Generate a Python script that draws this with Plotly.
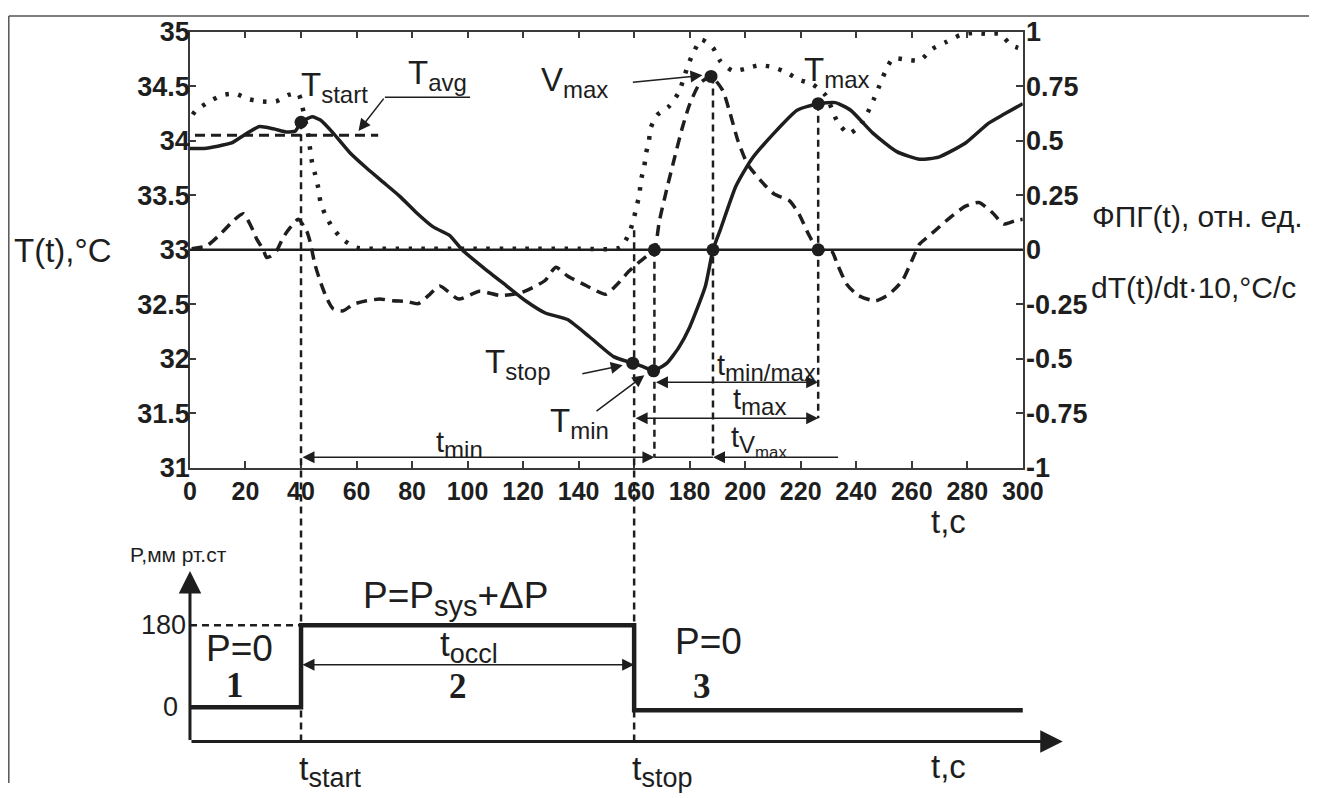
import plotly.graph_objects as go

# ---------------- data ----------------
# temperature T(t), degC  (left axis)
t_T = [0, 5, 10, 15, 20, 25, 30, 35, 38, 40, 44, 47, 51.6, 57.6, 63.6, 69.6, 75.6, 81.6, 87.6, 93.6,
       98, 106, 114, 121, 128, 136, 144, 152.6, 159.5, 163, 167, 171.8, 176, 180, 185.6, 188.4, 191,
       196.6, 202, 210.4, 218.7, 226.3, 232.5, 238, 246, 254.6, 262.9, 269.7, 279.4, 287.6, 293, 300]
T_vals = [33.93, 33.93, 33.95, 33.98, 34.06, 34.13, 34.11, 34.08, 34.09, 34.17, 34.22, 34.19, 34.07,
          33.89, 33.75, 33.62, 33.49, 33.34, 33.21, 33.13, 33.0, 32.83, 32.67, 32.53, 32.42, 32.36,
          32.2, 32.02, 31.96, 31.93, 31.89, 31.96, 32.1, 32.29, 32.66, 33.0, 33.18, 33.58, 33.82,
          34.07, 34.28, 34.34, 34.35, 34.28, 34.07, 33.9, 33.83, 33.85, 33.98, 34.16, 34.24, 34.34]

# photoplethysmogram, rel. units (right axis, dotted)
t_ppg = [1, 2.2, 7, 11.8, 16.2, 21.3, 26.2, 31, 35.5, 39, 40.5, 42.5, 43.9, 45, 46.2, 47, 48.6, 51.4,
         55.1, 60, 80, 100, 120, 140, 155, 158, 159.7, 160.8, 161.9, 162.4, 163.6, 164.2, 165.3, 166,
         168.4, 172.5, 176, 177.7, 179.4, 181.2, 184.2, 188.4, 191, 195.5, 200, 204.9, 209.9, 214.6,
         219.4, 224.2, 229, 233.2, 237.3, 241.4, 244.2, 246.3, 248.4, 250.4, 253.2, 258, 262.9, 267.6,
         272.4, 277.3, 282, 287, 291.7, 295.9, 300]
ppg_vals = [0.62, 0.64, 0.68, 0.71, 0.716, 0.69, 0.68, 0.68, 0.71, 0.716, 0.654, 0.533, 0.406, 0.35,
            0.285, 0.22, 0.165, 0.1, 0.047, 0.01, 0.005, 0.005, 0.005, 0.005, 0.01, 0.07, 0.133, 0.195,
            0.253, 0.317, 0.378, 0.437, 0.498, 0.56, 0.619, 0.657, 0.72, 0.78, 0.846, 0.9, 0.964, 0.926,
            0.866, 0.82, 0.83, 0.846, 0.838, 0.815, 0.78, 0.76, 0.708, 0.588, 0.532, 0.57, 0.631, 0.69,
            0.754, 0.815, 0.877, 0.872, 0.869, 0.923, 0.953, 0.984, 0.995, 0.99, 0.99, 0.938, 0.92]

# dT/dt * 10, degC/s (right axis, dashed)
t_dT = [0.6, 6, 10.8, 15.6, 19.2, 22.8, 24, 26.4, 27.6, 29, 31.2, 33.6, 36, 39, 42, 43.2, 45, 46.8,
        49.2, 51.5, 55.2, 58.8, 63.6, 68.4, 73.2, 78, 82.2, 86.4, 90, 96.8, 104.3, 111.9, 119.5, 127.8,
        131.8, 136, 143, 149.8, 154, 158, 161.5, 164.5, 167.3, 169.1, 171.9, 174.6, 177.4, 180.1,
        183.6, 187.7, 191.9, 194.6, 197.4, 200.8, 205.6, 210.4, 215.9, 219.4, 222.8, 226.3, 231.1,
        233.2, 236.6, 240.8, 247, 251.8, 256.6, 260, 262.8, 264, 268.3, 273.8, 279.4, 284.2, 289,
        293.1, 297.2, 300]
dT_vals = [0.005, 0.018, 0.07, 0.133, 0.165, 0.087, 0.05, 0.0, -0.035, -0.03, -0.005, 0.057, 0.1,
           0.14, 0.087, 0.04, -0.066, -0.14, -0.22, -0.27, -0.28, -0.25, -0.234, -0.226, -0.234,
           -0.237, -0.247, -0.204, -0.166, -0.226, -0.19, -0.21, -0.196, -0.142, -0.08, -0.12, -0.166,
           -0.204, -0.157, -0.1, -0.06, -0.03, 0.0, 0.133, 0.286, 0.424, 0.562, 0.67, 0.762, 0.795,
           0.731, 0.624, 0.5, 0.394, 0.317, 0.256, 0.225, 0.164, 0.072, 0.0, -0.005, -0.066, -0.158,
           -0.21, -0.234, -0.204, -0.142, -0.05, 0.026, 0.04, 0.087, 0.148, 0.2, 0.217, 0.171, 0.118,
           0.133, 0.14]

# characteristic points
t_start, t_stop = 40, 160
T_pts_t = [40, 159.5, 167, 226.3]          # T_start, T_stop, T_min, T_max
T_pts_v = [34.17, 31.96, 31.89, 34.34]
zero_pts_t = [167.3, 188.4, 226.3]         # zero crossings of dT/dt
t_Vmax, V_max = 187.7, 0.795
T_avg = 34.05
t_Tmin, t_zero2, t_Tmax = 167.3, 188.4, 226.3

# cuff pressure, mm Hg
t_P = [0, 40, 160, 300]
P_vals = [0, 180, -7, -7]
P_level = 180

# axis ticks
x_ticks = list(range(0, 301, 20))
y_ticks = [31, 31.5, 32, 32.5, 33, 33.5, 34, 34.5, 35]
y2_ticks = [-1, -0.75, -0.5, -0.25, 0, 0.25, 0.5, 0.75, 1]
y2_text = ["-1", "-0.75", "-0.5", "-0.25", "0", "0.25", "0.5", "0.75", "1"]

# ---------------- layout geometry ----------------
W, H = 1330, 798
# the photographed view maps page px -> picture px as  pic = O + S * page
CAM_SX, CAM_SY, CAM_OX, CAM_OY = 0.978, 0.96, 7.2, 15.3
FS = 1.0 / ((CAM_SX + CAM_SY) / 2)   # font compensation


def px(i):
    return (i - CAM_OX) / CAM_SX


def py(i):
    return (i - CAM_OY) / CAM_SY


def fs(s):
    return int(round(s * FS))


X0, X1 = px(190), px(1022)      # t=0 and t=300 in the top panel
YT, YB = py(32), py(467)        # top / bottom of top panel
pps = (X1 - X0) / 300.0         # px per second
P0_px, P180_px = py(705.7), py(624.0)
kP = (P0_px - P180_px) / 180.0
Prange = [(P0_px - H) / kP, (P0_px - YB) / kP]
trange2 = [-X0 / pps, (W - X0) / pps]
P_axis = -75.6               # level of the horizontal time axis
P_arrow_top = 299            # tip of the vertical P axis arrow
t_arrow_end = 314.4          # tip of the horizontal time axis arrow

INK = "#1e1e1e"
AX = "#3a3a3a"
SANS = "Liberation Sans, Arial, sans-serif"
SERIF = "Liberation Serif, Times New Roman, serif"


def T_of(v):
    """right-axis value -> left-axis temperature"""
    return 33 + 2 * v


def sub(s, size):
    return "<sub><span style='font-size:%dpx'>%s</span></sub>" % (fs(size), s)


fig = go.Figure()

# curves of the top panel
fig.add_trace(go.Scatter(x=t_ppg, y=ppg_vals, yaxis="y2", mode="lines",
                         line=dict(color=INK, width=4.5, dash="3.5px,9.5px", shape="spline", smoothing=0.6)))
fig.add_trace(go.Scatter(x=t_dT, y=dT_vals, yaxis="y2", mode="lines",
                         line=dict(color=INK, width=3.5, dash="11px,7px", shape="spline", smoothing=0.6)))
fig.add_trace(go.Scatter(x=t_T, y=T_vals, yaxis="y", mode="lines",
                         line=dict(color=INK, width=3.5, shape="spline", smoothing=0.5)))
fig.add_trace(go.Scatter(x=T_pts_t, y=T_pts_v, yaxis="y", mode="markers",
                         marker=dict(color=INK, size=13)))
fig.add_trace(go.Scatter(x=zero_pts_t + [t_Vmax], y=[0, 0, 0, V_max], yaxis="y2", mode="markers",
                         marker=dict(color=INK, size=13)))

# pressure step (bottom panel)
fig.add_trace(go.Scatter(x=t_P, y=P_vals, xaxis="x2", yaxis="y3", mode="lines",
                         line=dict(color=INK, width=4.5, shape="hv")))

shapes = []
VD = dict(color=INK, width=2.5, dash="7px,5px")
shapes.append(dict(type="line", xref="x domain", yref="y2", x0=0, x1=1, y0=0, y1=0,
                   line=dict(color=INK, width=2.5)))
shapes.append(dict(type="line", xref="x", yref="y", x0=1.8, x1=67.8, y0=T_avg, y1=T_avg,
                   line=dict(color=INK, width=3, dash="10px,6px")))
shapes.append(dict(type="line", xref="x", yref="y", x0=t_start, x1=t_start, y0=T_pts_v[0], y1=31, line=VD))
shapes.append(dict(type="line", xref="x", yref="y", x0=t_stop, x1=t_stop, y0=T_of(0.09), y1=31, line=VD))
shapes.append(dict(type="line", xref="x", yref="y", x0=t_Tmin, x1=t_Tmin, y0=33, y1=31.097, line=VD))
shapes.append(dict(type="line", xref="x", yref="y", x0=t_zero2, x1=t_zero2, y0=T_of(V_max), y1=31.097, line=VD))
shapes.append(dict(type="line", xref="x", yref="y", x0=t_Tmax, x1=t_Tmax, y0=T_pts_v[3], y1=31.455, line=VD))
shapes.append(dict(type="line", xref="x2", yref="y3", x0=t_start, x1=t_start, y0=P_axis, y1=Prange[1], line=VD))
shapes.append(dict(type="line", xref="x2", yref="y3", x0=t_stop, x1=t_stop, y0=P_axis, y1=Prange[1], line=VD))
shapes.append(dict(type="line", xref="x2", yref="y3", x0=0, x1=t_start, y0=P_level, y1=P_level,
                   line=dict(color=INK, width=2.5, dash="7px,5px")))
shapes.append(dict(type="line", xref="x", yref="y", x0=t_Tmin, x1=t_zero2, y0=31.097, y1=31.097,
                   line=dict(color=INK, width=1.5)))
shapes.append(dict(type="line", xref="x", yref="y", x0=70.2, x1=100.9, y0=34.40, y1=34.40,
                   line=dict(color=INK, width=1.5)))
# outer frame (left and top edges)
FX, FY = px(9) / W, 1 - max(py(11), 1.0) / H
shapes.append(dict(type="line", xref="paper", yref="paper", x0=FX, x1=FX, y0=0, y1=FY,
                   line=dict(color="#555", width=1.5)))
shapes.append(dict(type="line", xref="paper", yref="paper", x0=FX, x1=1, y0=FY, y1=FY,
                   line=dict(color="#555", width=1.5)))

ann = []


def label(text, x, y, xref="x", yref="y", size=32, family=SANS, xanchor="center", yanchor="middle"):
    ann.append(dict(text=text, x=x, y=y, xref=xref, yref=yref, showarrow=False,
                    font=dict(size=fs(size), family=family, color=INK), xanchor=xanchor, yanchor=yanchor))


def arrow(x, y, ax, ay, xref="x", yref="y", both=False, width=1.5, size=1.6, head=2):
    ann.append(dict(text="", x=x, y=y, ax=ax, ay=ay, xref=xref, yref=yref, axref=xref, ayref=yref,
                    showarrow=True, arrowhead=head, arrowsize=size, arrowwidth=width, arrowcolor=INK,
                    arrowside="end+start" if both else "end", startarrowhead=head, startarrowsize=size))


# top-panel labels
label("T" + sub("start", 23), 52, 34.49)
label("T" + sub("avg", 23), 89, 34.6)
label("V" + sub("max", 23), 138.6, 34.54)
label("T" + sub("max", 23), 233, 34.63)
label("T" + sub("stop", 23), 118, 31.95)
label("T" + sub("min", 23), 140.4, 31.41)
label("t" + sub("min", 23), 97, 31.21, size=28)
label("t" + sub("min/max", 23), 207.7, 31.92, size=28)
label("t" + sub("max", 23), 205.2, 31.61, size=28)
label("t" + sub("V<sub>max</sub>", 23), 204.8, 31.24, size=28)

# top-panel arrows
arrow(60.7, 34.09, 70.2, 34.40)                                  # T_avg leader
arrow(184.6, 0.8, 159, 0.768, yref="y2")                         # V_max
arrow(155.9, 31.94, 140.8, 31.86)                                # T_stop
arrow(163.7, 31.85, 145.9, 31.51)                                # T_min
arrow(t_Tmin, 31.097, t_start, 31.097, both=True)                # t_min
arrow(t_zero2, 31.097, 234, 31.097)                              # t_Vmax
arrow(t_Tmax, 31.455, t_stop, 31.455, both=True)                 # t_max
arrow(t_Tmax, 31.786, t_Tmin, 31.786, both=True)                 # t_min/max

# bottom-panel axes with arrows
arrow(0, P_arrow_top, 0, P_axis, xref="x2", yref="y3", width=3, size=1.5)
arrow(t_arrow_end, P_axis, 0, P_axis, xref="x2", yref="y3", width=3, size=1.5)
arrow(t_stop, 93.4, t_start, 93.4, xref="x2", yref="y3", both=True)   # t_occl

# bottom-panel labels
label("P,мм рт.ст", -4.3, 336, xref="x2", yref="y3", size=20)
label("180", -0.7, 180, xref="x2", yref="y3", size=26, xanchor="right")
label("0", -3.6, 0, xref="x2", yref="y3", size=26, xanchor="right")
label("P=0", 17.7, 129, xref="x2", yref="y3", size=36)
label("<b>1</b>", 16.2, 47.8, xref="x2", yref="y3", size=34, family=SERIF)
label("P=P" + sub("sys", 28) + "+ΔP", 95.6, 239.5, xref="x2", yref="y3", size=36)
label("t" + sub("occl", 26), 100.6, 133.7, xref="x2", yref="y3", size=34)
label("<b>2</b>", 96.6, 45.6, xref="x2", yref="y3", size=34, family=SERIF)
label("P=0", 186.8, 144.7, xref="x2", yref="y3", size=36)
label("<b>3</b>", 184.6, 45.6, xref="x2", yref="y3", size=34, family=SERIF)
label("t" + sub("start", 26), 50.5, -140, xref="x2", yref="y3", size=33)
label("t" + sub("stop", 26), 170.2, -140, xref="x2", yref="y3", size=33)
label("t,c", 273.3, -130.6, xref="x2", yref="y3", size=32)
label("t,c", 273.3, 409, xref="x2", yref="y3", size=32)

# axis titles (paper coordinates)
label("T(t),°C", px(63) / W, 1 - py(250) / H, xref="paper", yref="paper", size=32)
label("ФПГ(t), отн. ед.", px(1089) / W, 1 - py(216) / H, xref="paper", yref="paper", size=29, xanchor="left")
label("dT(t)/dt·10,°C/c", px(1088) / W, 1 - py(287) / H, xref="paper", yref="paper", size=29, xanchor="left")

TICKF = dict(family=SANS, size=fs(26), color=INK, weight="bold")

fig.update_layout(
    width=W, height=H, margin=dict(l=0, r=0, t=0, b=0),
    paper_bgcolor="white", plot_bgcolor="white", showlegend=False,
    xaxis=dict(domain=[X0 / W, X1 / W], range=[0, 300], anchor="y",
               tickvals=x_ticks, ticks="inside", ticklen=7, tickcolor=AX, tickwidth=1.5,
               showline=True, linecolor=AX, linewidth=1.5, mirror="ticks",
               showgrid=False, zeroline=False,
               tickfont=dict(family=SANS, size=fs(24), color=INK, weight="bold")),
    yaxis=dict(domain=[1 - YB / H, 1 - YT / H], range=[31, 35], anchor="x",
               tickvals=y_ticks, ticks="inside", ticklen=6, tickcolor=AX, tickwidth=1.5,
               showline=True, linecolor=AX, linewidth=1.5, showgrid=False, zeroline=False,
               tickfont=TICKF, ticklabelstandoff=-7),
    yaxis2=dict(overlaying="y", side="right", anchor="x", range=[-1, 1],
                tickvals=y2_ticks, ticktext=y2_text, ticks="inside", ticklen=7, tickcolor=AX,
                tickwidth=1.5, showline=True, linecolor=AX, linewidth=1.5, showgrid=False,
                zeroline=False, tickfont=TICKF, ticklabelstandoff=-4),
    xaxis2=dict(domain=[0, 1], range=trange2, anchor="y3", visible=False),
    yaxis3=dict(domain=[0, 1 - YB / H], range=Prange, anchor="x2", visible=False),
    shapes=shapes, annotations=ann,
)

fig.write_html("out.html", config={"displayModeBar": False},
               post_script="document.body.style.margin='0';"
                           "document.documentElement.style.overflow='hidden';"
                           "document.body.style.overflow='hidden';")
